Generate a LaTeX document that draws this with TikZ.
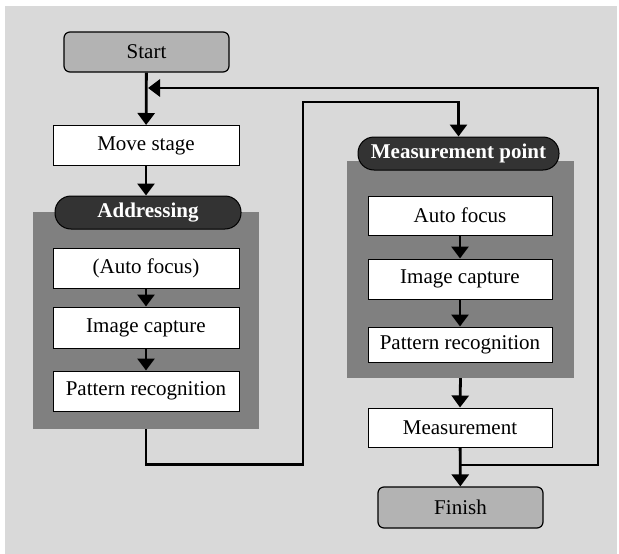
\documentclass[tikz,border=0pt]{standalone}
\usepackage{fontspec}
\setmainfont{Liberation Serif}
\usetikzlibrary{arrows.meta}
\definecolor{bggray}{HTML}{D9D9D9}
\definecolor{panelgray}{HTML}{808080}
\definecolor{termgray}{HTML}{B3B3B3}
\definecolor{pilldark}{HTML}{333333}

\begin{document}
\begin{tikzpicture}[x=1pt,y=-1pt,
    box/.style={draw=black,line width=1pt,fill=white,minimum height=40pt,
        minimum width=186pt,inner sep=0pt,font=\fontsize{21}{24}\selectfont},
    term/.style={box,fill=termgray,rounded corners=6pt,minimum width=165pt,line width=1.2pt},
    pill/.style={draw=black,line width=1pt,fill=pilldark,text=white,rounded corners=16pt,
        minimum height=33pt,inner sep=0pt,font=\fontsize{21}{24}\selectfont\bfseries},
    panel/.style={fill=panelgray,inner sep=0pt},
    flow/.style={line width=2.8pt,-{Triangle[length=12pt,width=17pt]}}]
    \useasboundingbox (0,0) rectangle (619,554);
    \fill[bggray] (5,6) rectangle (617,554);
    % panels
    \node[panel,minimum width=226pt,minimum height=217pt] (lpanel) at (146,320.5) {};
    \node[panel,minimum width=227pt,minimum height=217pt] (rpanel) at (460.5,269.5) {};
    % left column
    \node[term] (start) at (146.5,52) {Start};
    \node[box] (move) at (146,145.5) {Move stage};
    \node[pill,minimum width=186pt] (addr) at (148,212.5) {Addressing};
    \node[box] (af1) at (146,268) {(Auto focus)};
    \node[box,minimum height=41pt] (ic1) at (146,327.5) {Image capture};
    \node[box] (pr1) at (146,391) {Pattern recognition};
    % right column
    \node[pill,minimum width=201pt] (mpt) at (458.5,153.5) {Measurement point};
    \node[box,minimum width=184pt,minimum height=39pt] (af2) at (460,215.5) {Auto focus};
    \node[box,minimum width=184pt] (ic2) at (460,279) {Image capture};
    \node[box,minimum width=184pt,minimum height=35pt] (pr2) at (460,344.5) {Pattern recognition};
    \node[box,minimum width=184pt,minimum height=39pt] (meas) at (460,427.5) {Measurement};
    \node[term,minimum height=41pt] (finish) at (460.5,507.5) {Finish};
    \coordinate (merge) at (148,88);
    \coordinate (split) at (460,465);
    % arrows
    \draw[flow] (start) -- (move);
    \draw[flow] (move.south) -- (move.south |- addr.north);
    \draw[flow] (af1) -- (ic1);
    \draw[flow] (ic1) -- (pr1);
    \draw[flow] (lpanel.south) -- ++(0,35) -| (303,102) -| (mpt.north);
    \draw[flow] (af2) -- (ic2);
    \draw[flow] (ic2) -- (pr2);
    \draw[flow] (rpanel.south) -- (meas.north);
    \draw[flow] (meas) -- (finish);
    \draw[flow] (split) -| (598,88) -- (merge);
\end{tikzpicture}
\end{document}
